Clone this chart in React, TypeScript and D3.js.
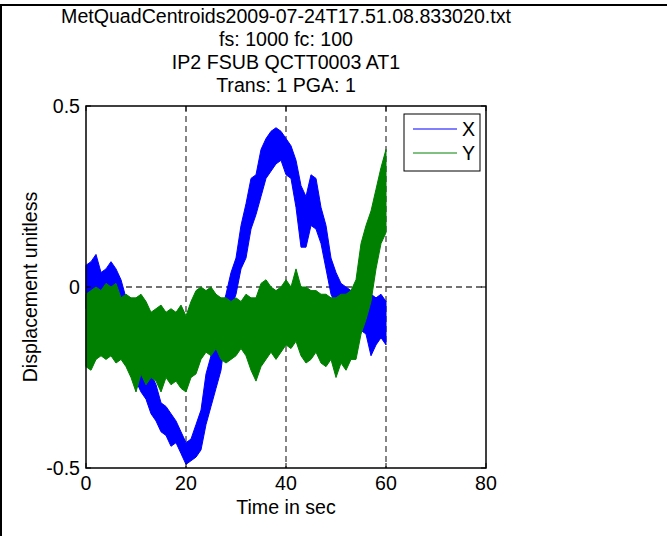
import React from 'react';
import * as d3 from 'd3';

// Time knots (seconds)
const timeSec = [
  0, 1, 2, 3, 4, 5, 6, 7, 8, 9, 10, 11, 12, 13, 14, 15, 16, 17, 18, 19, 20,
  21, 22, 23, 24, 25, 26, 27, 28, 29, 30, 31, 32, 33, 34, 35, 36, 37, 38, 39, 40,
  41, 42, 43, 44, 45, 46, 47, 48, 49, 50, 51, 52, 53, 54, 55, 56, 57, 58, 59, 60,
];

// X displacement: upper / lower envelope read per second
const xUpper = [
  0.06, 0.07, 0.09, 0.04, 0.05, 0.07, 0.05, 0.02, -0.03, -0.08, -0.12,
  -0.16, -0.2, -0.24, -0.27, -0.32, -0.33, -0.35, -0.37, -0.4, -0.43,
  -0.42, -0.38, -0.34, -0.24, -0.19, -0.12, -0.07, -0.02, 0.04, 0.08,
  0.17, 0.23, 0.3, 0.31, 0.38, 0.41, 0.43, 0.44, 0.43, 0.41,
  0.39, 0.35, 0.28, 0.25, 0.31, 0.3, 0.22, 0.17, 0.08, 0.04,
  0.01, 0.0, -0.01, 0.0, -0.01, -0.01, -0.02, -0.03, -0.02, -0.04,
];
const xLower = [
  -0.06, -0.07, -0.05, -0.07, -0.05, -0.06, -0.07, -0.1, -0.17, -0.21, -0.26,
  -0.29, -0.31, -0.35, -0.37, -0.4, -0.41, -0.44, -0.43, -0.46, -0.49,
  -0.48, -0.47, -0.45, -0.38, -0.33, -0.28, -0.23, -0.12, -0.06, -0.02,
  0.05, 0.08, 0.16, 0.2, 0.25, 0.3, 0.32, 0.34, 0.35, 0.31,
  0.3, 0.22, 0.11, 0.11, 0.17, 0.16, 0.12, 0.05, -0.02, -0.05,
  -0.08, -0.1, -0.11, -0.1, -0.12, -0.13, -0.19, -0.16, -0.14, -0.16,
];

// Y displacement: upper / lower envelope read per second
const yUpper = [
  -0.02, -0.01, 0.0, -0.01, 0.01, 0.0, 0.01, -0.03, -0.02, -0.03, -0.03,
  -0.02, -0.04, -0.07, -0.06, -0.05, -0.07, -0.06, -0.07, -0.05, -0.08,
  -0.04, -0.01, 0.0, -0.01, 0.0, -0.02, -0.03, -0.03, -0.04, -0.03,
  -0.04, -0.02, -0.03, -0.03, 0.01, 0.02, 0.0, -0.01, 0.0, 0.02,
  0.0, 0.05, 0.0, 0.0, -0.01, -0.01, -0.02, -0.02, -0.03, -0.03,
  -0.02, -0.02, -0.01, 0.02, 0.12, 0.17, 0.21, 0.27, 0.33, 0.38,
];
const yLower = [
  -0.22, -0.23, -0.2, -0.19, -0.2, -0.19, -0.21, -0.2, -0.22, -0.25, -0.29,
  -0.24, -0.27, -0.25, -0.26, -0.29, -0.25, -0.27, -0.26, -0.28, -0.29,
  -0.25, -0.24, -0.2, -0.18, -0.19, -0.17, -0.2, -0.21, -0.2, -0.19,
  -0.17, -0.19, -0.23, -0.26, -0.22, -0.2, -0.18, -0.2, -0.18, -0.16,
  -0.17, -0.15, -0.19, -0.21, -0.2, -0.18, -0.21, -0.22, -0.2, -0.25,
  -0.21, -0.23, -0.2, -0.2, -0.13, -0.09, -0.04, 0.05, 0.12, 0.15,
];

const xTicks = [0, 20, 40, 60, 80];
const yTicks = [-0.5, 0, 0.5];
const yTickLabels = ['-0.5', '0', '0.5'];
const titleLines = [
  'MetQuadCentroids2009-07-24T17.51.08.833020.txt',
  'fs: 1000 fc: 100',
  'IP2 FSUB QCTT0003 AT1',
  'Trans: 1 PGA: 1',
];
const seriesNames = ['X', 'Y'];
const seriesColors = ['#0000ff', '#008000'];

const W = 667;
const H = 536;
const L = 86;
const R = 486;
const T = 106;
const B = 468;
const FONT = '"Liberation Sans", Arial, Helvetica, sans-serif';
const FS = 19.6;

export default function App() {
  const x = d3.scaleLinear().domain([0, 80]).range([L, R]);
  const y = d3.scaleLinear().domain([-0.5, 0.5]).range([B, T]);

  const mk = (lo: number[], hi: number[]) =>
    d3
      .area<number>()
      .x((d) => x(timeSec[d]))
      .y0((d) => y(lo[d]))
      .y1((d) => y(hi[d]))(timeSec.map((_, i) => i)) || '';

  const xPath = mk(xLower, xUpper);
  const yPath = mk(yLower, yUpper);

  const tickLen = 5;

  return (
    <svg
      width={W}
      height={H}
      style={{ position: 'absolute', left: 0, top: 0, background: '#fff' }}
      fontFamily={FONT}
    >
      <rect x={0} y={0} width={W} height={H} fill="#fff" />
      <rect x={1} y={5} width={W + 20} height={H + 20} fill="none" stroke="#000" strokeWidth={2} />

      {/* grid */}
      {xTicks.slice(1, -1).map((t) => (
        <line key={'gx' + t} x1={x(t)} x2={x(t)} y1={T} y2={B} stroke="#444" strokeWidth={1.3} strokeDasharray="6,4" />
      ))}
      <line x1={L} x2={R} y1={y(0)} y2={y(0)} stroke="#444" strokeWidth={1.3} strokeDasharray="6,4" />

      {/* data */}
      <path d={xPath} fill={seriesColors[0]} stroke={seriesColors[0]} strokeWidth={1} />
      <path d={yPath} fill={seriesColors[1]} stroke={seriesColors[1]} strokeWidth={1} />

      {/* axes box */}
      <rect x={L} y={T} width={R - L} height={B - T} fill="none" stroke="#000" strokeWidth={1.5} />

      {/* ticks */}
      {xTicks.map((t) => (
        <g key={'xt' + t}>
          <line x1={x(t)} x2={x(t)} y1={B} y2={B - tickLen} stroke="#000" />
          <line x1={x(t)} x2={x(t)} y1={T} y2={T + tickLen} stroke="#000" />
          <text x={x(t)} y={B + 22} fontSize={FS} textAnchor="middle">
            {t}
          </text>
        </g>
      ))}
      {yTicks.map((t, i) => (
        <g key={'yt' + t}>
          <line x1={L} x2={L + tickLen} y1={y(t)} y2={y(t)} stroke="#000" />
          <line x1={R} x2={R - tickLen} y1={y(t)} y2={y(t)} stroke="#000" />
          <text x={L - 6} y={y(t) + 7} fontSize={FS} textAnchor="end">
            {yTickLabels[i]}
          </text>
        </g>
      ))}

      {/* labels */}
      <text x={(L + R) / 2} y={B + 46} fontSize={FS} textAnchor="middle">
        Time in sec
      </text>
      <text
        transform={`translate(37, ${(T + B) / 2}) rotate(-90)`}
        fontSize={FS}
        textAnchor="middle"
      >
        Displacement unitless
      </text>
      {titleLines.map((s, i) => (
        <text key={'tl' + i} x={(L + R) / 2} y={23 + i * 23} fontSize={FS} textAnchor="middle">
          {s}
        </text>
      ))}

      {/* legend */}
      <rect x={404} y={114} width={76} height={57} fill="#fff" stroke="#000" strokeWidth={1} />
      {seriesNames.map((n, i) => (
        <g key={'lg' + n}>
          <line x1={413} x2={457} y1={129 + i * 24} y2={129 + i * 24} stroke={seriesColors[i]} strokeWidth={1} />
          <text x={462} y={136 + i * 24} fontSize={FS}>
            {n}
          </text>
        </g>
      ))}
    </svg>
  );
}
